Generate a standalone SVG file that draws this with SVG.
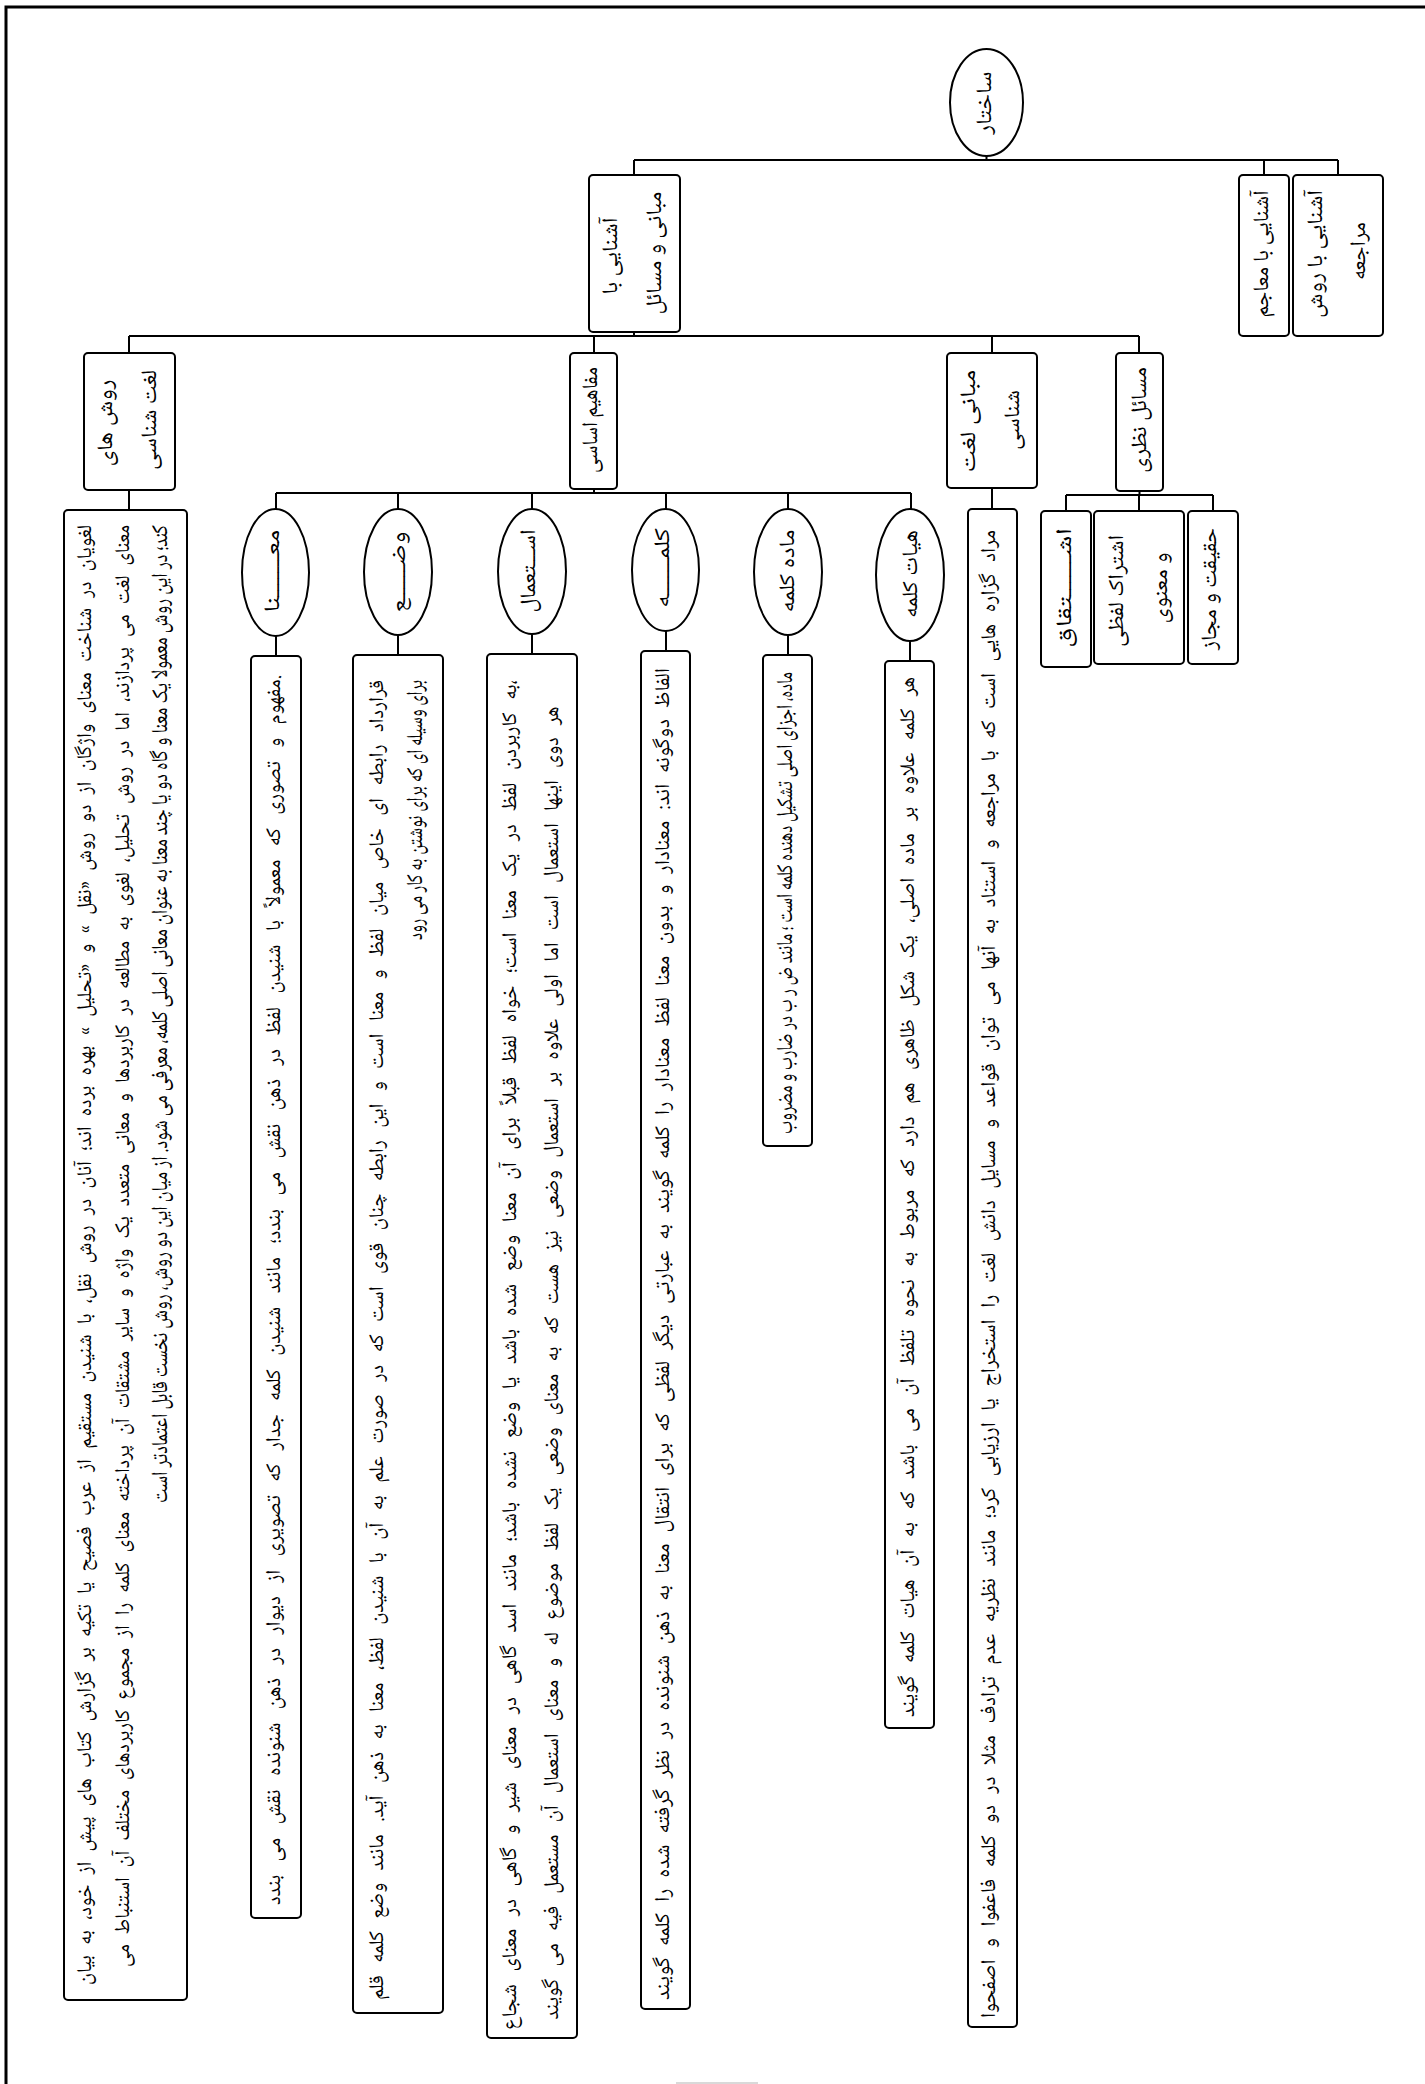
<svg xmlns="http://www.w3.org/2000/svg" width="1425" height="2084" viewBox="0 0 1425 2084">
<style>
.n{fill:#fff;stroke:#000;stroke-width:2}
.c{fill:none;stroke:#000;stroke-width:2}
.t{font-family:"Noto Naskh Arabic","Noto Sans Arabic","DejaVu Sans",sans-serif;font-size:21px;fill:#000;text-anchor:middle;dominant-baseline:central;direction:rtl}
.s{font-size:22px}
.k{font-size:23px}
</style>
<rect width="1425" height="2084" fill="#fff"/>
<path d="M6 2084 V7 H1425" fill="none" stroke="#000" stroke-width="3"/>
<line x1="676" y1="2083" x2="758" y2="2083" stroke="#cccccc" stroke-width="1.5"/>
<g id="connectors" class="c">
<path d="M986.5 156 V160 M634 160 H1338 M634 160 V175 M1264 160 V175 M1338 160 V175 M634 332 V336 M129 336 H1139 M129 336 V353 M594 336 V353 M992 336 V353 M1139 336 V353 M129 490 V510 M594 489 V493 M276 493 H911 M276 493 V509 M398 493 V509 M532 493 V509 M666 493 V509 M788 493 V509 M911 493 V509 M276 636 V656 M398 635 V655 M532 634 V654 M666 631 V651 M788 635 V655 M910 641 V661 M992 488 V509 M1139.5 491 V495 M1066 495 H1213 M1066 495 V511 M1139 495 V511 M1213 495 V511"/>
</g>
<g id="n-root"><ellipse class="n" cx="986.5" cy="102.5" rx="36.5" ry="53.5"/><text class="t s" transform="translate(986 103) rotate(-90)" textLength="63" lengthAdjust="spacingAndGlyphs">ساختار</text></g>
<g id="n-maajem"><rect class="n" x="1239" y="175" width="50" height="161" rx="4"/><text class="t s" transform="translate(1263 254) rotate(-90)" textLength="127" lengthAdjust="spacingAndGlyphs">آشنایی با معاجم</text></g>
<g id="n-ravesh"><rect class="n" x="1293" y="175" width="90" height="161" rx="4"/><text class="t s" transform="translate(1317 254) rotate(-90)" textLength="128" lengthAdjust="spacingAndGlyphs">آشنایی با روش</text><text class="t s" transform="translate(1360 251) rotate(-90)" textLength="58" lengthAdjust="spacingAndGlyphs">مراجعه</text></g>
<g id="n-mabani-main"><rect class="n" x="589" y="175" width="91" height="157" rx="4"/><text class="t s" transform="translate(612 256) rotate(-90)" textLength="77" lengthAdjust="spacingAndGlyphs">آشنایی با</text><text class="t s" transform="translate(656 253) rotate(-90)" textLength="123" lengthAdjust="spacingAndGlyphs">مبانی و مسائل</text></g>
<g id="n-raveshha"><rect class="n" x="84" y="353" width="91" height="137" rx="4"/><text class="t s" transform="translate(107 423) rotate(-90)" textLength="87" lengthAdjust="spacingAndGlyphs">روش های</text><text class="t s" transform="translate(151 420) rotate(-90)" textLength="100" lengthAdjust="spacingAndGlyphs">لغت شناسی</text></g>
<g id="n-mafahim"><rect class="n" x="570" y="353" width="47" height="136" rx="4"/><text class="t s" transform="translate(592 420) rotate(-90)" textLength="106" lengthAdjust="spacingAndGlyphs">مفاهیم اساسی</text></g>
<g id="n-mabani"><rect class="n" x="947" y="353" width="90" height="135" rx="4"/><text class="t s" transform="translate(970 421) rotate(-90)" textLength="103" lengthAdjust="spacingAndGlyphs">مبانی لغت</text><text class="t s" transform="translate(1014 420) rotate(-90)" textLength="60" lengthAdjust="spacingAndGlyphs">شناسی</text></g>
<g id="n-masael"><rect class="n" x="1116" y="353" width="47" height="138" rx="4"/><text class="t s" transform="translate(1141 420) rotate(-90)" textLength="106" lengthAdjust="spacingAndGlyphs">مسائل نظری</text></g>
<g id="n-loghaviyan"><rect class="n" x="64" y="510" width="123" height="1490" rx="4"/>
<text class="t" style="word-spacing:6px" transform="translate(86 1255) rotate(-90)" textLength="1460" lengthAdjust="spacingAndGlyphs">لغویان در شناخت معنای واژگان از دو روش «نقل » و «تحلیل » بهره برده اند؛ آنان در روش نقل، با شنیدن مستقیم از عرب فصیح یا تکیه بر گزارش کتاب های پیش از خود، به بیان</text>
<text class="t" style="word-spacing:6px" transform="translate(124 1246) rotate(-90)" textLength="1442" lengthAdjust="spacingAndGlyphs">معنای لغت می پردازند، اما در روش تحلیل، لغوی به مطالعه در کاربردها و معانی متعدد یک واژه و سایر مشتقات آن پرداخته معنای کلمه را از مجموع کاربردهای مختلف آن استنباط می</text>
<text class="t k" transform="translate(162 1014) rotate(-90)" textLength="978" lengthAdjust="spacingAndGlyphs">کند؛ در این روش معمولا یک معنا و گاه دو یا چند معنا به عنوان معانی اصلی کلمه، معرفی می شود. از میان این دو روش، روش نخست قابل اعتمادتر است</text></g>
<g id="n-mana"><ellipse class="n" cx="275.5" cy="572.5" rx="33.5" ry="63.5"/><text class="t s" transform="translate(274 571) rotate(-90)" textLength="83" lengthAdjust="spacingAndGlyphs">معـــــــنا</text></g>
<g id="n-mana-def"><rect class="n" x="251" y="656" width="50" height="1262" rx="4"/><text class="t" style="word-spacing:9px" transform="translate(275 1290) rotate(-90)" textLength="1230" lengthAdjust="spacingAndGlyphs">.مفهوم و تصوری که معمولاً با شنیدن لفظ در ذهن نقش می بندد؛ مانند شنیدن کلمه جدار که تصویری از دیوار در ذهن شنونده نقش می بندد</text></g>
<g id="n-vaz"><ellipse class="n" cx="398" cy="572" rx="34" ry="63"/><text class="t s" transform="translate(400 572) rotate(-90)" textLength="81" lengthAdjust="spacingAndGlyphs">وضــــــع</text></g>
<g id="n-vaz-def"><rect class="n" x="353" y="655" width="90" height="1358" rx="4"/>
<text class="t" style="word-spacing:8px" transform="translate(378 1340) rotate(-90)" textLength="1320" lengthAdjust="spacingAndGlyphs">قرارداد رابطه ای خاص میان لفظ و معنا است و این رابطه چنان قوی است که در صورت علم به آن با شنیدن لفظ، معنا به ذهن آید. مانند وضع کلمه قلم</text>
<text class="t k" transform="translate(417 810) rotate(-90)" textLength="260" lengthAdjust="spacingAndGlyphs">برای وسیله ای که برای نوشتن به کار می رود</text></g>
<g id="n-estemal"><ellipse class="n" cx="532" cy="571.5" rx="34" ry="62.5"/><text class="t s" transform="translate(530 571) rotate(-90)" textLength="83" lengthAdjust="spacingAndGlyphs">اســـتعمال</text></g>
<g id="n-estemal-def"><rect class="n" x="487" y="654" width="90" height="1384" rx="4"/>
<text class="t" style="word-spacing:8px" transform="translate(511 1355) rotate(-90)" textLength="1350" lengthAdjust="spacingAndGlyphs">،به کاربردن لفظ در یک معنا است؛ خواه لفظ قبلاً برای آن معنا وضع شده باشد یا وضع نشده باشد؛ مانند اسد گاهی در معنای شیر و گاهی در معنای شجاع</text>
<text class="t" style="word-spacing:8px" transform="translate(553 1363) rotate(-90)" textLength="1313" lengthAdjust="spacingAndGlyphs">هر دوی اینها استعمال است اما اولی علاوه بر استعمال وضعی نیز هست که به معنای وضعی یک لفظ موضوع له و معنای استعمال آن مستعمل فیه می گویند</text></g>
<g id="n-kalame"><ellipse class="n" cx="665.5" cy="570" rx="33.5" ry="61"/><text class="t s" transform="translate(664 568) rotate(-90)" textLength="80" lengthAdjust="spacingAndGlyphs">کلمــــــه</text></g>
<g id="n-kalame-def"><rect class="n" x="641" y="651" width="49" height="1358" rx="4"/><text class="t" style="word-spacing:6px" transform="translate(664 1334) rotate(-90)" textLength="1332" lengthAdjust="spacingAndGlyphs">الفاظ دوگونه اند: معنادار و بدون معنا لفظ معنادار را کلمه گویند به عبارتی دیگر لفظی که برای انتقال معنا به ذهن شنونده در نظر گرفته شده را کلمه گویند</text></g>
<g id="n-madde"><ellipse class="n" cx="788" cy="572" rx="34" ry="63"/><text class="t s" transform="translate(789 571) rotate(-90)" textLength="83" lengthAdjust="spacingAndGlyphs">ماده کلمه</text></g>
<g id="n-madde-def"><rect class="n" x="763" y="655" width="49" height="491" rx="4"/><text class="t k" transform="translate(787 903) rotate(-90)" textLength="462" lengthAdjust="spacingAndGlyphs">ماده، اجزای اصلی تشکیل دهنده کلمه است ؛ مانند ض ر ب در ضارب و مضروب</text></g>
<g id="n-hayat"><ellipse class="n" cx="910" cy="575" rx="34" ry="66"/><text class="t s" transform="translate(912 574) rotate(-90)" textLength="88" lengthAdjust="spacingAndGlyphs">هیات کلمه</text></g>
<g id="n-hayat-def"><rect class="n" x="885" y="661" width="49" height="1067" rx="4"/><text class="t" style="word-spacing:8px" transform="translate(909 1197) rotate(-90)" textLength="1040" lengthAdjust="spacingAndGlyphs">هر کلمه علاوه بر ماده اصلی، یک شکل ظاهری هم دارد که مربوط به نحوه تلفظ آن می باشد که به آن هیات کلمه گویند</text></g>
<g id="n-morad"><rect class="n" x="968" y="509" width="49" height="1518" rx="4"/><text class="t" style="word-spacing:7px" transform="translate(990 1274) rotate(-90)" textLength="1488" lengthAdjust="spacingAndGlyphs">مراد گزاره هایی است که با مراجعه و استناد به آنها می توان قواعد و مسایل دانش لغت را استخراج یا ارزیابی کرد؛ مانند نظریه عدم ترادف مثلا در دو کلمه فاعفوا و اصفحوا</text></g>
<g id="n-eshteghagh"><rect class="n" x="1041" y="511" width="50" height="156" rx="4"/><text class="t s" transform="translate(1066 588) rotate(-90)" textLength="120" lengthAdjust="spacingAndGlyphs">اشــــــتقاق</text></g>
<g id="n-eshterak"><rect class="n" x="1094" y="511" width="90" height="153" rx="4"/><text class="t s" transform="translate(1118 591) rotate(-90)" textLength="112" lengthAdjust="spacingAndGlyphs">اشتراک لفظی</text><text class="t s" transform="translate(1162 588) rotate(-90)" textLength="71" lengthAdjust="spacingAndGlyphs">و معنوی</text></g>
<g id="n-haghighat"><rect class="n" x="1188" y="511" width="50" height="153" rx="4"/><text class="t s" transform="translate(1211 589) rotate(-90)" textLength="122" lengthAdjust="spacingAndGlyphs">حقیقت و مجاز</text></g>
</svg>
